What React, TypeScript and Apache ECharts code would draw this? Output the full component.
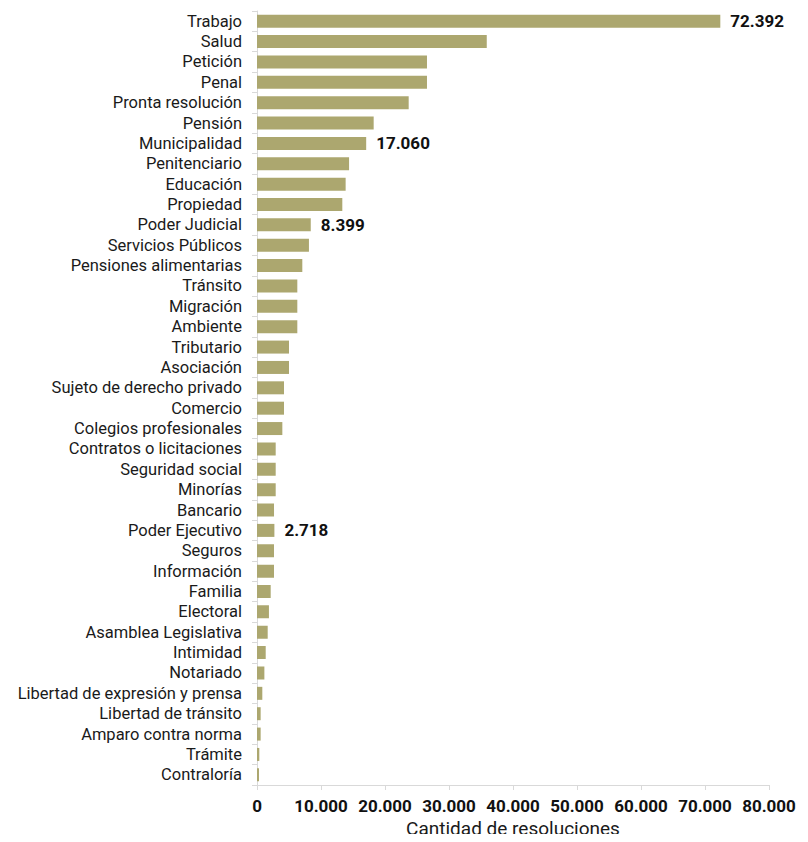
import React, { useEffect, useRef } from "react";
import * as echarts from "echarts";

const categories: string[] = [
  "Trabajo", "Salud", "Petición", "Penal", "Pronta resolución", "Pensión",
  "Municipalidad", "Penitenciario", "Educación", "Propiedad", "Poder Judicial",
  "Servicios Públicos", "Pensiones alimentarias", "Tránsito", "Migración",
  "Ambiente", "Tributario", "Asociación", "Sujeto de derecho privado", "Comercio",
  "Colegios profesionales", "Contratos o licitaciones", "Seguridad social",
  "Minorías", "Bancario", "Poder Ejecutivo", "Seguros", "Información", "Familia",
  "Electoral", "Asamblea Legislativa", "Intimidad", "Notariado",
  "Libertad de expresión y prensa", "Libertad de tránsito", "Amparo contra norma",
  "Trámite", "Contraloría",
];

const values: number[] = [
  72392, 35900, 26560, 26560, 23700, 18230,
  17060, 14380, 13850, 13330, 8399,
  8120, 7080, 6300, 6300,
  6300, 5000, 5000, 4220, 4220,
  3960, 2920, 2920,
  2920, 2660, 2718, 2660, 2660, 2140,
  1870, 1670, 1360, 1150,
  830, 570, 570,
  360, 310,
];

const labeledCategories: string[] = ["Trabajo", "Municipalidad", "Poder Judicial", "Poder Ejecutivo"];

const xTicks = { min: 0, max: 80000, interval: 10000 };
const axisTitle = "Cantidad de resoluciones";

const fmt = (v: number) => String(Math.round(v)).replace(/\B(?=(\d{3})+(?!\d))/g, ".");

export default function App() {
  const ref = useRef<HTMLDivElement>(null);
  useEffect(() => {
    if (!ref.current) return;
    const chart = echarts.init(ref.current, null, { renderer: "svg" });
    const font = "Roboto, 'Noto Sans', sans-serif";
    chart.setOption({
      animation: false,
      textStyle: { fontFamily: font },
      grid: {
        left: 249,
        right: 31,
        top: 3,
        bottom: 57,
        containLabel: false,
        outerBoundsMode: "none",
      },
      xAxis: {
        type: "value",
        min: xTicks.min,
        max: xTicks.max,
        interval: xTicks.interval,
        name: axisTitle,
        nameLocation: "middle",
        nameGap: 31,
        nameTextStyle: { fontSize: 19, color: "#1a1a1a", fontFamily: font },
        axisLine: { show: true, lineStyle: { color: "#d9d9d9", width: 1 } },
        axisTick: { show: true, length: 5, lineStyle: { color: "#d9d9d9" } },
        splitLine: { show: false },
        axisLabel: {
          formatter: (v: number) => fmt(v),
          fontSize: 17,
          fontWeight: "bold",
          color: "#111",
          margin: 12,
          fontFamily: font,
        },
      },
      yAxis: {
        type: "category",
        inverse: true,
        data: categories,
        axisLine: { show: true, lineStyle: { color: "#d9d9d9", width: 1 } },
        axisTick: { show: true, length: 5, lineStyle: { color: "#d9d9d9" } },
        axisLabel: { interval: 0, fontSize: 16.5, color: "#1a1a1a", margin: 15, fontFamily: font },
      },
      series: [
        {
          type: "bar",
          barWidth: 13,
          data: values.map((v, i) => ({
            value: v,
            label: {
              show: labeledCategories.includes(categories[i]),
              position: "right",
              distance: 10,
              formatter: (p: any) => fmt(p.value),
              fontSize: 17,
              fontWeight: "bold",
              color: "#111",
              fontFamily: font,
            },
          })),
          itemStyle: { color: "#aca76f" },
        },
      ],
    });
    return () => chart.dispose();
  }, []);
  return <div ref={ref} style={{ width: 792, height: 834, marginBottom: -8 }} />;
}
